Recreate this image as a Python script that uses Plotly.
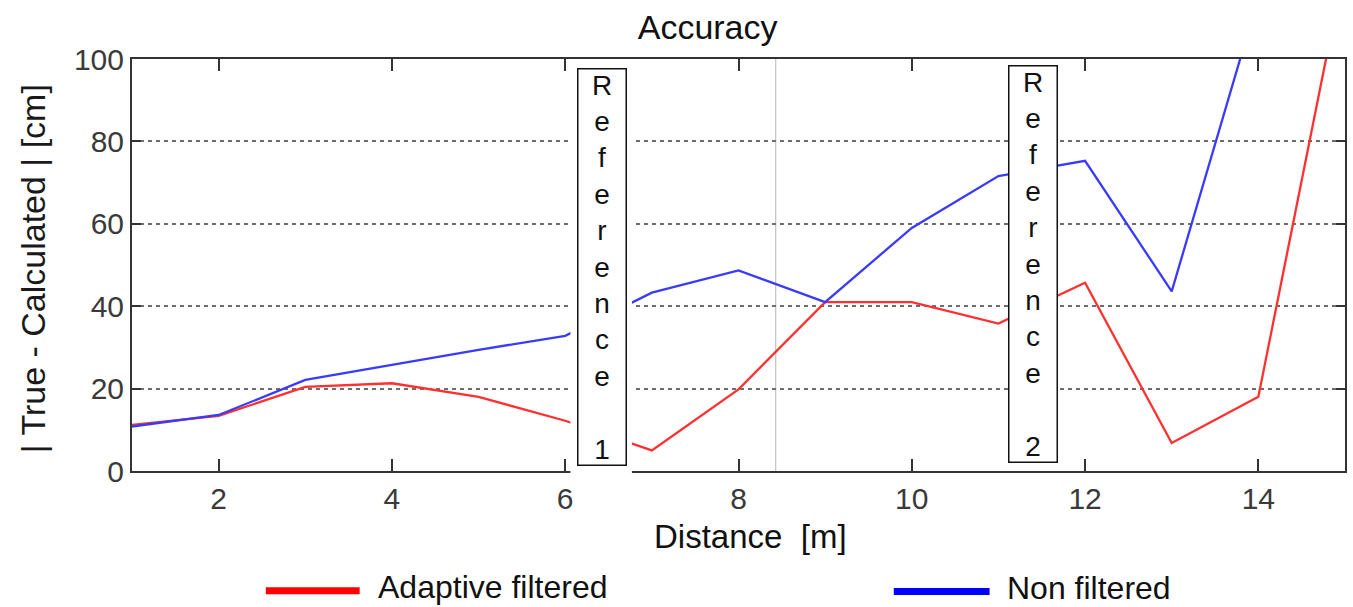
import plotly.graph_objects as go

# Measured error versus distance
distance_m = [1, 2, 3, 4, 5, 6, 7, 8, 9, 10, 11, 12, 13, 14, 15]
adaptive_filtered_cm = [11.2, 13.4, 20.4, 21.3, 18.0, 12.2, 5.0, 19.8, 41.0, 41.0, 35.8, 45.7, 6.8, 18.0, 123.0]
non_filtered_cm = [10.8, 13.6, 22.1, 25.8, 29.4, 32.8, 43.3, 48.7, 41.0, 59.0, 71.6, 75.3, 43.6, 115.0, 135.0]

x_ticks = [2, 4, 6, 8, 10, 12, 14]
y_ticks = [0, 20, 40, 60, 80, 100]

series_names = ["Adaptive filtered", "Non filtered"]
series_colors = ["#ff3030", "#3a3aff"]
legend_colors = ["#ff0000", "#0000ff"]

reference_names = ["1", "2"]

FONT = "Liberation Sans, Arial, Helvetica, sans-serif"

fig = go.Figure()
for name, values, color in zip(series_names, [adaptive_filtered_cm, non_filtered_cm], series_colors):
    fig.add_trace(go.Scatter(
        x=distance_m, y=values, mode="lines", name=name,
        line=dict(color=color, width=2.3), showlegend=False,
    ))

axis_common = dict(
    showline=True, linecolor="#333333", linewidth=2, mirror="ticks",
    ticks="inside", tickcolor="#333333", tickwidth=2,
    tickfont=dict(family=FONT, size=30, color="#3a3a3a"),
    zeroline=False,
)

fig.update_xaxes(
    range=[1, 15], tickvals=x_ticks, ticktext=[str(v) for v in x_ticks],
    ticklen=12, showgrid=False, **axis_common,
)
fig.update_yaxes(
    range=[0, 100], tickvals=y_ticks, ticktext=[str(v) for v in y_ticks],
    ticklen=9, showgrid=True, gridcolor="#6e6e6e", gridwidth=1.6, griddash="4px,4px",
    **axis_common,
)

shapes = [
    # thin cursor line
    dict(type="line", xref="x", yref="paper", x0=8.43, x1=8.43, y0=0, y1=1,
         line=dict(color="#b5b5b5", width=1), layer="below"),
    # white gap behind the first reference label
    dict(type="rect", xref="x", yref="paper", x0=6.06, x1=6.77, y0=-0.012, y1=0.994,
         fillcolor="white", line=dict(width=0), layer="above"),
]

# legend swatches drawn below the axes
legend_rows = [
    dict(x0=0.1103, x1=0.1877, tx=0.2010, y=-0.2905),
    dict(x0=0.6280, x1=0.7070, tx=0.7195, y=-0.2925),
]
annotations = []
for row, name, color in zip(legend_rows, series_names, legend_colors):
    shapes.append(dict(type="line", xref="paper", yref="paper",
                       x0=row["x0"], x1=row["x1"], y0=row["y"], y1=row["y"],
                       line=dict(color=color, width=7)))
    annotations.append(dict(xref="paper", yref="paper", x=row["tx"], y=row["y"] + 0.008,
                            xanchor="left", yanchor="middle", showarrow=False,
                            text=name, font=dict(family=FONT, size=32, color="#111111")))

# vertical "Reference n" boxes
ref_pos = [(6.43, 49.6), (11.40, 50.2)]
for (rx, ry), num in zip(ref_pos, reference_names):
    stacked = "<br>".join(list("Reference")) + "<br> <br>" + num
    annotations.append(dict(
        xref="x", yref="y", x=rx, y=ry, xanchor="center", yanchor="middle",
        showarrow=False, text=stacked, align="center", valign="middle",
        font=dict(family=FONT, size=28, color="#111111"),
        bgcolor="white", bordercolor="#111111", borderwidth=1.5, borderpad=1,
        width=45, height=393,
    ))

# axis titles
annotations.append(dict(xref="paper", yref="paper", x=0.51, y=-0.16,
                        xanchor="center", yanchor="middle", showarrow=False,
                        text="Distance  [m]", font=dict(family=FONT, size=33, color="#111111")))
annotations.append(dict(xref="paper", yref="paper", x=-0.0815, y=0.49,
                        xanchor="center", yanchor="middle", showarrow=False, textangle=-90,
                        text="| True - Calculated | [cm]",
                        font=dict(family=FONT, size=34, color="#1a1a1a")))

fig.update_layout(
    width=1353, height=607,
    margin=dict(l=132, r=6, t=59, b=136),
    paper_bgcolor="white", plot_bgcolor="white",
    title=dict(text="Accuracy", x=0.523, xref="container", xanchor="center",
               y=1 - 27 / 607, yref="container", yanchor="middle",
               font=dict(family=FONT, size=34, color="#111111")),
    shapes=shapes, annotations=annotations,
    showlegend=False,
)

fig.write_html("out.html")
